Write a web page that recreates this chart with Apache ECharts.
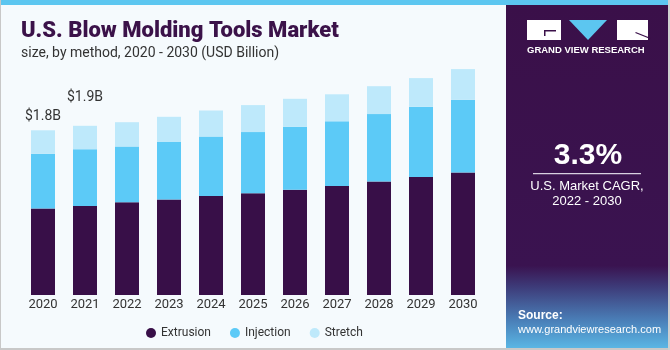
<!DOCTYPE html>
<html>
<head>
<meta charset="utf-8">
<script src="https://cdn.jsdelivr.net/npm/echarts@6/dist/echarts.min.js"></script>
<style>
  html, body { margin: 0; padding: 0; background: #f5fafd; }
  #chart { width: 670px; height: 350px; }
</style>
</head>
<body>
<div id="chart"></div>
<script>
// 数据
var years = ['2020', '2021', '2022', '2023', '2024', '2025', '2026', '2027', '2028', '2029', '2030'];
var extrusion = [0.96, 0.99, 1.03, 1.06, 1.10, 1.13, 1.17, 1.21, 1.26, 1.31, 1.36];
var injection = [0.61, 0.63, 0.62, 0.64, 0.66, 0.68, 0.70, 0.72, 0.75, 0.78, 0.81];
var stretch = [0.26, 0.26, 0.27, 0.28, 0.29, 0.30, 0.31, 0.30, 0.31, 0.32, 0.34];
var totalLabels = ['$1.8B', '$1.9B'];

var myChart = echarts.init(document.getElementById('chart'));

// 顶部系列加总额标签（只标前两年）
var stretchData = stretch.map(function (v, i) {
  if (i < totalLabels.length) {
    return { value: v, label: { show: true, formatter: totalLabels[i], distance: i === 0 ? 7 : 21 } };
  }
  return v;
});

var txt = '#333333';
var panel = '#3a1049';

myChart.setOption({
  backgroundColor: '#f5fafd',
  animation: false,
  textStyle: { fontFamily: 'Roboto, "Liberation Sans", sans-serif' },
  title: {
    text: 'U.S. Blow Molding Tools Market',
    subtext: 'size, by method, 2020 - 2030 (USD Billion)',
    left: 16,
    top: 15,
    itemGap: 4,
    textStyle: { fontSize: 22, fontWeight: 900, color: '#3b1249' },
    subtextStyle: { fontSize: 14, color: txt }
  },
  legend: {
    left: 141,
    top: 322,
    icon: 'circle',
    itemWidth: 10,
    itemHeight: 10,
    itemGap: 19,
    textStyle: { fontSize: 12, color: txt },
    data: ['Extrusion', 'Injection', 'Stretch']
  },
  grid: { left: 22, right: 186, top: 61, bottom: 55 },
  xAxis: {
    type: 'category',
    data: years,
    axisLine: { show: false },
    axisTick: { show: false },
    axisLabel: { color: txt, fontSize: 13, margin: 3 }
  },
  yAxis: { type: 'value', min: 0, max: 2.6, show: false },
  graphic: [
    // 顶部蓝条
    { type: 'rect', left: 0, top: 0, shape: { width: 670, height: 5 }, style: { fill: '#5cc6f0' }, z: 10 },
    // 边框
    { type: 'rect', left: 0, top: 0, shape: { width: 1, height: 350 }, style: { fill: '#c8c8c8' }, z: 10 },
    { type: 'rect', left: 0, top: 348, shape: { width: 670, height: 2 }, style: { fill: '#c8c8c8' }, z: 10 },
    // 右侧面板
    {
      type: 'rect', left: 506, top: 5, shape: { width: 164, height: 343 }, z: 1,
      style: {
        fill: new echarts.graphic.LinearGradient(0, 0, 0, 1, [
          { offset: 0, color: panel },
          { offset: 0.76, color: '#3a1350' },
          { offset: 0.82, color: '#3d3a78' },
          { offset: 0.92, color: '#4a7fb8' },
          { offset: 1, color: '#5ab6e4' }
        ])
      }
    },
    { type: 'rect', left: 668, top: 0, shape: { width: 2, height: 350 }, style: { fill: '#d0d0d0' }, z: 10 },
    // 标志
    { type: 'rect', left: 527, top: 20, shape: { width: 34, height: 20 }, style: { fill: '#ffffff' }, z: 5 },
    { type: 'rect', left: 544, top: 30, shape: { width: 12, height: 1.5 }, style: { fill: panel }, z: 6 },
    { type: 'rect', left: 544, top: 30, shape: { width: 1.5, height: 6 }, style: { fill: panel }, z: 6 },
    { type: 'polygon', left: 569, top: 20, shape: { points: [[0, 0], [38, 0], [19, 20]] }, style: { fill: '#5cc6f0' }, z: 5 },
    { type: 'rect', left: 617, top: 20, shape: { width: 31, height: 20 }, style: { fill: '#ffffff' }, z: 5 },
    { type: 'line', left: 633, top: 30, shape: { x1: 0, y1: 0, x2: 15, y2: 6 }, style: { stroke: panel, lineWidth: 1.3 }, z: 6 },
    { type: 'text', left: 527, top: 45, z: 5, style: { text: 'GRAND VIEW RESEARCH', fill: '#ffffff', font: 'bold 9.5px "Liberation Sans", sans-serif' } },
    // CAGR
    { type: 'text', z: 5, style: { x: 588, y: 156, text: '3.3%', align: 'center', verticalAlign: 'middle', fill: '#ffffff', font: 'bold 30px "Liberation Sans", sans-serif' } },
    { type: 'rect', left: 533, top: 173, shape: { width: 108, height: 1.2 }, style: { fill: '#d8d0e0' }, z: 5 },
    { type: 'text', z: 5, style: { x: 587, y: 186, text: 'U.S. Market CAGR,', align: 'center', verticalAlign: 'middle', fill: '#ffffff', font: '13px "Liberation Sans", sans-serif' } },
    { type: 'text', z: 5, style: { x: 587, y: 201, text: '2022 - 2030', align: 'center', verticalAlign: 'middle', fill: '#ffffff', font: '13px "Liberation Sans", sans-serif' } },
    // 来源
    { type: 'text', z: 5, style: { x: 518, y: 316, text: 'Source:', verticalAlign: 'middle', fill: '#ffffff', font: 'bold 12px "Liberation Sans", sans-serif' } },
    { type: 'text', z: 5, style: { x: 518, y: 330, text: 'www.grandviewresearch.com', verticalAlign: 'middle', fill: '#ffffff', font: '11px "Liberation Sans", sans-serif' } }
  ],
  series: [
    {
      name: 'Extrusion', type: 'bar', stack: 'total', barWidth: 24,
      itemStyle: { color: '#380f48' },
      data: extrusion
    },
    {
      name: 'Injection', type: 'bar', stack: 'total', barWidth: 24,
      itemStyle: { color: '#5ccaf7' },
      data: injection
    },
    {
      name: 'Stretch', type: 'bar', stack: 'total', barWidth: 24,
      itemStyle: { color: '#bee9fb' },
      label: { show: false, position: 'top', color: txt, fontSize: 14 },
      data: stretchData
    }
  ]
});
</script>
</body>
</html>
